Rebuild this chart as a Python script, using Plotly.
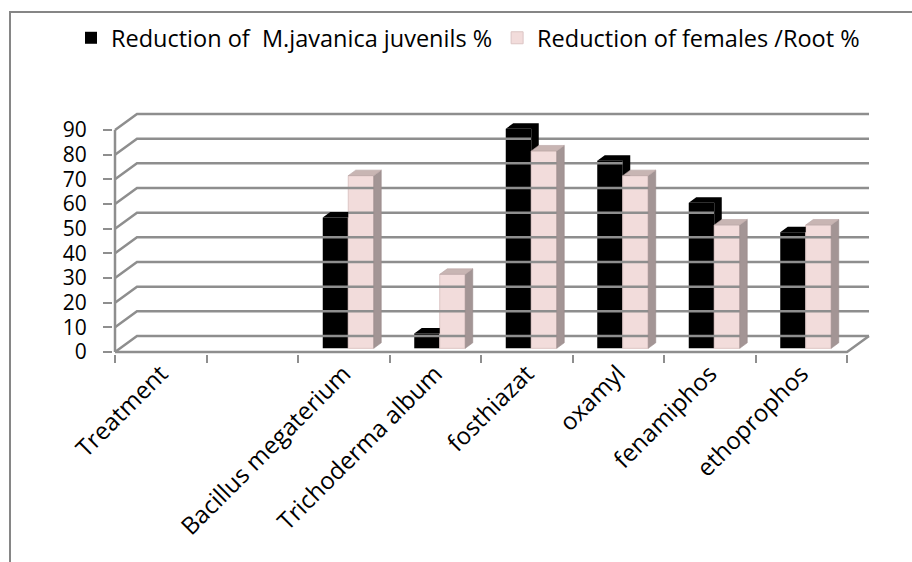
import plotly.graph_objects as go

# ---------------- data ----------------
categories = ["Treatment", " ", "Bacillus megaterium", "Trichoderma album",
              "fosthiazat", "oxamyl", "fenamiphos", "ethoprophos"]
juveniles = [None, None, 53, 6, 89, 76, 59, 47]     # Reduction of M.javanica juvenils %
females = [None, None, 70, 30, 80, 70, 50, 50]      # Reduction of females /Root %
series_names = ["Reduction of  M.javanica juvenils %", "Reduction of females /Root %"]
y_ticks = [0, 10, 20, 30, 40, 50, 60, 70, 80, 90]

# ---------------- geometry (pixels) ----------------
W, H = 912, 562
AX_X = 115          # front y-axis pixel
CAT_W = 91.5        # px per category
Y0 = 352            # pixel of value 0 on front axis
UNIT = 2.4667       # px per value unit
BACK_DX, BACK_DY = 22, 16
BAR_FDX, BAR_FDY = 4.5, 3.7
BAR_DDX, BAR_DDY = 7.5, 5.5
BAR_W = 25.5

ux = lambda px: px / CAT_W
uy = lambda px: px / UNIT

plot_left = AX_X - 2
plot_right = 885
plot_top = 95
plot_bottom = Y0 + 2
PW = plot_right - plot_left
PH = plot_bottom - plot_top
x_lo = -0.5 - ux(2)
y_lo = -uy(2)
x_hi = x_lo + PW / CAT_W
y_hi = y_lo + PH / UNIT

def paper_x(px):
    return (px - plot_left) / PW

def paper_y(py):
    return (plot_bottom - py) / PH

n = len(categories)
GRID = "#8e8e8e"
FONT = "Open Sans"
PINK = "#f2dcdb"
PINK_SIDE = "#a39595"
PINK_TOP = "#c8b5b3"

fig = go.Figure()

# back wall grid lines with perspective connectors + floor + front axis
gx, gy = ux(BACK_DX), uy(BACK_DY)
lx, ly = [], []
for v in y_ticks:
    lx += [-0.5, -0.5 + gx, n - 0.5 + gx, None]
    ly += [v, v + gy, v + gy, None]
lx += [-0.5, n - 0.5, n - 0.5 + gx, None, -0.5, -0.5]
ly += [0, 0, gy, None, 0, max(y_ticks)]
fig.add_trace(go.Scatter(x=lx, y=ly, mode="lines", line=dict(color=GRID, width=2.5),
                         hoverinfo="skip", showlegend=False))

fdx, fdy = ux(BAR_FDX), uy(BAR_FDY)
ddx, ddy = ux(BAR_DDX), uy(BAR_DDY)
bw = ux(BAR_W)

# front faces as bars
fig.add_trace(go.Bar(x=[i + fdx for i in range(n)], y=juveniles, base=fdy, width=bw, offset=-bw,
                     marker=dict(color="#000000", line=dict(width=0)), name=series_names[0]))
fig.add_trace(go.Bar(x=[i + fdx for i in range(n)], y=females, base=fdy, width=bw, offset=0,
                     marker=dict(color=PINK, line=dict(color="#dcc5c4", width=1)), name=series_names[1]))

# black bars: visible top + side silhouette (not hidden by pink front faces)
bx, by = [], []
for i, (vb, vp) in enumerate(zip(juveniles, females)):
    if vb is None:
        continue
    xl = i + fdx - bw
    xr = i + fdx
    tb = fdy + vb
    h = fdy + (vp if vp is not None else -1e9)
    if h >= tb + ddy:
        bx += [xl, xl + ddx, xr, xr, xl, None]
        by += [tb, tb + ddy, tb + ddy, tb, tb, None]
    else:
        hh = max(h, fdy)
        bx += [xl, xl + ddx, xr + ddx, xr + ddx, xr, xr, xl, None]
        by += [tb, tb + ddy, tb + ddy, hh + (ddy if hh == fdy else 0), hh, tb, tb, None]
fig.add_trace(go.Scatter(x=bx, y=by, mode="lines", fill="toself", fillcolor="#000000",
                         line=dict(width=0, color="#000000"), hoverinfo="skip", showlegend=False))

# pink bars: side and top faces
sx, sy, tx, ty = [], [], [], []
for i, vp in enumerate(females):
    if vp is None:
        continue
    xl = i + fdx
    xr = xl + bw
    tp = fdy + vp
    sx += [xr, xr + ddx, xr + ddx, xr, xr, None]
    sy += [fdy, fdy + ddy, tp + ddy, tp, fdy, None]
    tx += [xl, xr, xr + ddx, xl + ddx, xl, None]
    ty += [tp, tp, tp + ddy, tp + ddy, tp, None]
fig.add_trace(go.Scatter(x=sx, y=sy, mode="lines", fill="toself", fillcolor=PINK_SIDE,
                         line=dict(width=0.6, color="#9a8b8b"), hoverinfo="skip", showlegend=False))
fig.add_trace(go.Scatter(x=tx, y=ty, mode="lines", fill="toself", fillcolor=PINK_TOP,
                         line=dict(width=0.6, color="#b9a5a4"), hoverinfo="skip", showlegend=False))

fig.update_layout(
    width=W, height=H,
    margin=dict(l=plot_left, r=W - plot_right, t=plot_top, b=H - plot_bottom),
    paper_bgcolor="white", plot_bgcolor="white",
    barmode="overlay",
    font=dict(family=FONT, size=23, color="#000000"),
    showlegend=True,
    legend=dict(orientation="h", x=paper_x(71), xanchor="left", y=paper_y(38), yanchor="middle",
                font=dict(family=FONT, size=23.5, color="#000000"),
                traceorder="normal", bgcolor="rgba(0,0,0,0)"),
    xaxis=dict(range=[x_lo, x_hi], tickvals=list(range(n)), ticktext=categories,
               tickangle=-45, ticks="", showgrid=False, zeroline=False, showline=False,
               tickfont=dict(family=FONT, size=24, color="#000000"),
               minor=dict(tickvals=[i - 0.5 for i in range(n + 1)], ticks="outside",
                          ticklen=8, tickwidth=2, tickcolor=GRID, showgrid=False)),
    yaxis=dict(range=[y_lo, y_hi], tickvals=y_ticks, ticks="outside", ticklen=9,
               tickwidth=2, tickcolor=GRID, showgrid=False, zeroline=False, showline=False,
               ticklabelstandoff=12,
               tickfont=dict(family=FONT, size=21, color="#000000")),
    shapes=[dict(type="rect", xref="paper", yref="paper", x0=paper_x(10), x1=paper_x(925),
                 y0=paper_y(575), y1=paper_y(12), line=dict(color="#868686", width=2),
                 fillcolor="rgba(0,0,0,0)", layer="below")],
)

fig.write_html("out.html")
